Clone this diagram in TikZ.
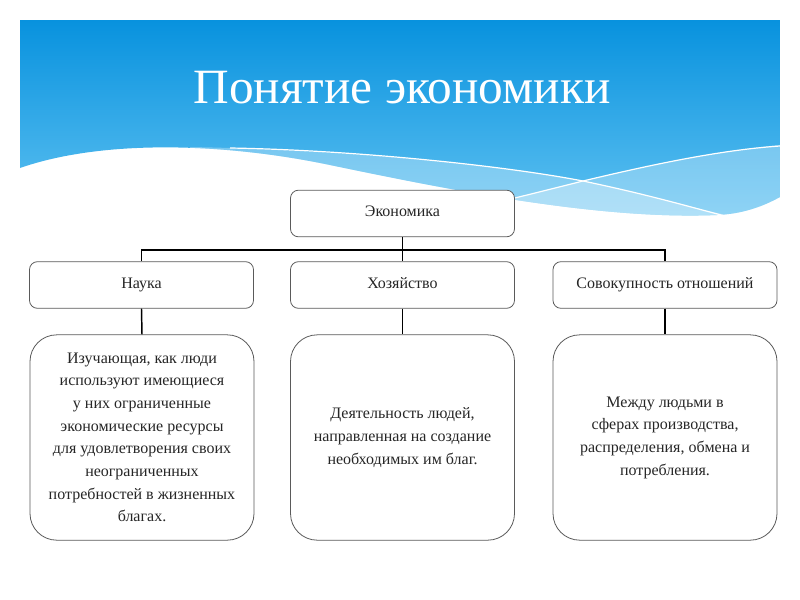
\documentclass[tikz,border=0pt]{standalone}
\usepackage{fontspec}
\setmainfont{Liberation Serif}
\usetikzlibrary{calc}
\definecolor{bannertop}{RGB}{8,146,222}
\definecolor{bannerbot}{RGB}{98,195,242}
\definecolor{boxline}{RGB}{90,90,90}
\tikzset{
  headbox/.style={draw=boxline, line width=0.6pt, rounded corners=6pt, fill=white,
    minimum width=168pt, minimum height=35pt, inner sep=0pt, text height=1.6ex, text depth=0.5ex,
    font=\fontsize{12}{14}\selectfont, text=black!85},
  textbox/.style={draw=boxline, line width=0.6pt, rounded corners=20pt, fill=white,
    minimum width=168pt, minimum height=154pt, inner sep=0pt, align=center,
    font=\fontsize{12}{17}\selectfont, text=black!85},
  bus/.style={line width=1.1pt, black}
}
\begin{document}
\begin{tikzpicture}[x=0.75pt, y=-0.75pt]
			%%%%% BANNER %%%%%
			\useasboundingbox[fill=white] (0,0) rectangle (800,600);
			
			\begin{scope}
			\clip (20,20) -- (780,20) -- (780,197) .. controls (760,208) and (740,214) .. (717,215)
			  .. controls (600,220) and (450,190) .. (330,165) .. controls (220,142) and (100,140) .. (20,168) -- cycle;
			\shade[top color=bannertop, bottom color=bannerbot] (20,20) rectangle (780,225);
			\fill[white, opacity=0.3] (190,147) .. controls (350,150) and (500,165) .. (583,181)
			  .. controls (650,195) and (700,210) .. (740,218) -- (740,240) -- (190,240) -- cycle;
			\fill[white, opacity=0.3] (470,210) .. controls (520,197) and (555,188) .. (583,181)
			  .. controls (650,165) and (720,150) .. (790,144) -- (790,240) -- (470,240) -- cycle;
			\end{scope}
			\draw[white, line width=0.9pt] (230,148) .. controls (350,150) and (500,165) .. (583,181)
			  .. controls (650,195) and (690,207) .. (725,216);
			\draw[white, line width=0.9pt] (485,205) .. controls (520,197) and (555,188) .. (583,181)
			  .. controls (650,165) and (720,150) .. (780,146);
			
			\node[text=white, font=\fontsize{37}{40}\selectfont] (title) at (402,88) {Понятие экономики};
			
			%%%%% TREE %%%%%
			\node[headbox] (econ) at (402.5,213.5) {Экономика};
			\node[headbox] (nauka) at (141.5,285) {Наука};
			\node[headbox] (hoz) at (402.5,285) {Хозяйство};
			\node[headbox] (sovok) at (665,285) {Совокупность отношений};
			
			\node[textbox] (naukatxt) at (142,437.5) {Изучающая, как люди\\используют имеющиеся\\у них ограниченные\\экономические ресурсы\\для удовлетворения своих\\неограниченных\\потребностей в жизненных\\благах.};
			\node[textbox] (hoztxt) at (402.5,437.5) {Деятельность людей,\\направленная на создание\\необходимых им благ.};
			\node[textbox] (sovoktxt) at (665,437.5) {Между людьми в\\сферах производства,\\распределения, обмена и\\потребления.};
			
			\coordinate (bus) at (402.5,250);
			\draw[bus] (econ.south) -- (bus);
			\draw[bus] (nauka.north) |- (bus) -| (sovok.north);
			\draw[bus] (bus) -- (hoz.north);
			\draw[bus] (nauka.south) -- (naukatxt.north);
			\draw[bus] (hoz.south) -- (hoztxt.north);
			\draw[bus] (sovok.south) -- (sovoktxt.north);
			
			%%%%% END %%%%%
\end{tikzpicture}
\end{document}
